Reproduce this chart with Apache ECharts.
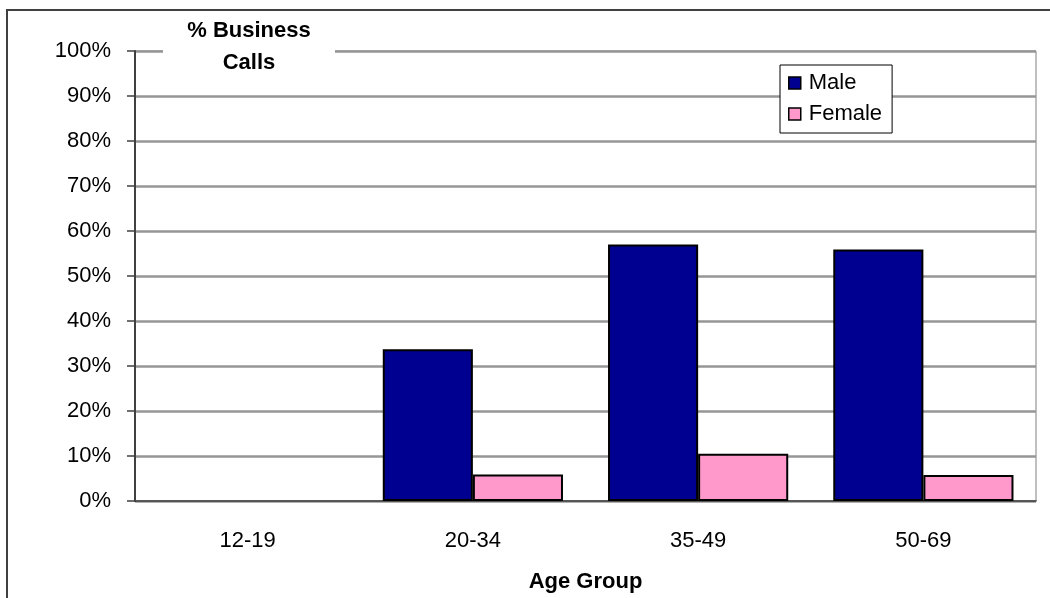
<!DOCTYPE html>
<html>
<head>
<meta charset="utf-8">
<script src="https://cdn.jsdelivr.net/npm/echarts@6/dist/echarts.min.js"></script>
<style>
  html, body { margin: 0; padding: 0; background: #ffffff; }
  #chart { width: 1050px; height: 598px; }
</style>
</head>
<body>
<div id="chart"></div>
<script>
// Share of calls that are business calls, by age group and gender
const categories = ['12-19', '20-34', '35-49', '50-69'];
const maleValues = [0, 33.7, 57.0, 55.9];
const femaleValues = [0, 5.9, 10.5, 5.8];
const yTicks = [0, 10, 20, 30, 40, 50, 60, 70, 80, 90, 100];

const FONT = '"Liberation Sans", Arial, sans-serif';

// zero-height bars get no outline so they leave no stray line on the baseline
function barData(values) {
  return values.map(function (v) {
    return v === 0 ? { value: v, itemStyle: { borderWidth: 0 } } : v;
  });
}

const chart = echarts.init(document.getElementById('chart'), null, { renderer: 'canvas' });

chart.setOption({
  animation: false,
  backgroundColor: '#ffffff',
  textStyle: { fontFamily: FONT, color: '#000' },
  grid: {
    left: 135,
    right: 14,
    top: 51,
    bottom: 95,
    show: true,
    borderColor: '#808080',
    borderWidth: 1,
    backgroundColor: '#ffffff'
  },
  legend: {
    orient: 'vertical',
    left: 780,
    top: 65,
    data: ['Male', 'Female'],
    backgroundColor: '#ffffff',
    borderColor: '#000000',
    borderWidth: 1,
    borderRadius: 0,
    padding: [7, 10, 8, 8],
    itemWidth: 12,
    itemHeight: 12,
    itemGap: 9,
    icon: 'rect',
    itemStyle: { borderColor: '#000', borderWidth: 1.5 },
    textStyle: { fontFamily: FONT, fontSize: 22, color: '#000', padding: [0, 0, 0, 3] },
    z: 20
  },
  xAxis: {
    type: 'category',
    data: categories,
    name: 'Age Group',
    nameLocation: 'middle',
    nameGap: 70,
    nameTextStyle: { fontFamily: FONT, fontSize: 22, fontWeight: 'bold', color: '#000' },
    axisLine: { show: true, lineStyle: { color: '#404040', width: 1.5 } },
    axisTick: { show: false },
    axisLabel: { fontFamily: FONT, fontSize: 22, color: '#000', margin: 29 },
    splitLine: { show: false }
  },
  yAxis: {
    type: 'value',
    min: 0,
    max: 100,
    interval: 10,
    axisLine: { show: true, lineStyle: { color: '#404040', width: 2 } },
    axisTick: { show: true, length: 8, lineStyle: { color: '#404040', width: 1.5 } },
    axisLabel: {
      fontFamily: FONT,
      fontSize: 22,
      color: '#000',
      margin: 24,
      formatter: function (v) { return yTicks.indexOf(v) >= 0 ? v + '%' : ''; }
    },
    splitLine: { show: true, lineStyle: { color: '#969696', width: 2.5 } }
  },
  series: [
    {
      name: 'Male',
      type: 'bar',
      data: barData(maleValues),
      barGap: '0%',
      barCategoryGap: '20%',
      itemStyle: { color: '#000090', borderColor: '#000000', borderWidth: 2 }
    },
    {
      name: 'Female',
      type: 'bar',
      data: barData(femaleValues),
      barGap: '0%',
      barCategoryGap: '20%',
      itemStyle: { color: '#FF99CC', borderColor: '#000000', borderWidth: 2 }
    }
  ],
  graphic: [
    {
      // outer chart frame (runs off the right and bottom edges)
      type: 'rect',
      z: 50,
      silent: true,
      shape: { x: 7, y: 10, width: 1100, height: 700 },
      style: { fill: null, stroke: '#404040', lineWidth: 2 }
    },
    {
      // title box sits over the top gridline
      type: 'rect',
      z: 60,
      silent: true,
      shape: { x: 163, y: 14, width: 172, height: 60 },
      style: { fill: '#ffffff', stroke: null }
    },
    {
      type: 'text',
      z: 61,
      silent: true,
      x: 249,
      y: 15,
      style: {
        text: '% Business\nCalls',
        font: 'bold 22px ' + FONT,
        fill: '#000',
        align: 'center',
        verticalAlign: 'top',
        lineHeight: 32
      }
    }
  ]
});
</script>
</body>
</html>
